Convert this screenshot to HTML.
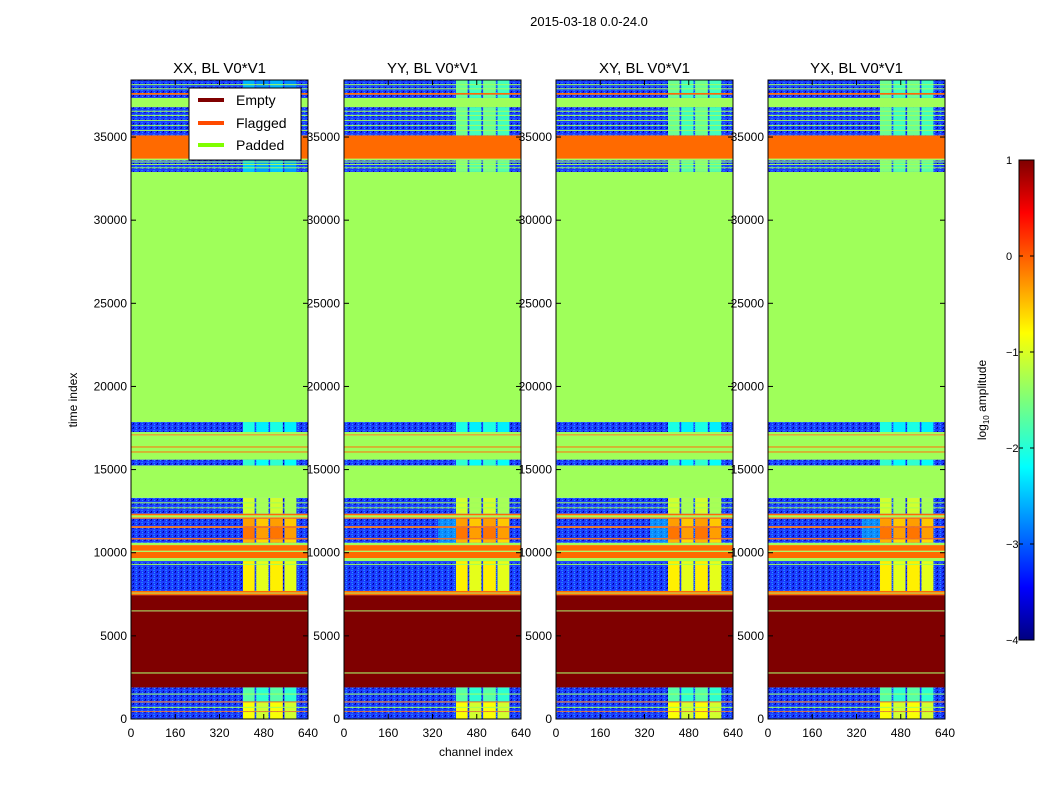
<!DOCTYPE html>
<html><head><meta charset="utf-8"><style>
body{margin:0;background:#fff;}
svg text{font-family:"Liberation Sans",sans-serif;fill:#000;}
</style></head><body>
<svg id="fig" width="1050" height="800" viewBox="0 0 1050 800" xmlns="http://www.w3.org/2000/svg">
<defs>
<pattern id="noise" width="6" height="4" patternUnits="userSpaceOnUse">
<rect width="6" height="4" fill="#1a3cff"/>
<rect x="0" y="0" width="2" height="1" fill="#0a14c8"/>
<rect x="3" y="2" width="2" height="1" fill="#1e78ff"/>
<rect x="1" y="3" width="1" height="1" fill="#00008c"/>
<rect x="4" y="0" width="1" height="1" fill="#2a9cff"/>
</pattern>
<linearGradient id="jet" x1="0" y1="1" x2="0" y2="0">
<stop offset="0" stop-color="#00007f"/><stop offset="0.11" stop-color="#0000ff"/>
<stop offset="0.36" stop-color="#00ffff"/><stop offset="0.5" stop-color="#7dff7a"/>
<stop offset="0.64" stop-color="#ffff00"/><stop offset="0.89" stop-color="#ff0000"/>
<stop offset="1" stop-color="#7f0000"/>
</linearGradient>
</defs>
<text x="589" y="26" font-size="13" text-anchor="middle">2015-03-18 0.0-24.0</text>
<g id="panels"></g>
<text x="476" y="756" font-size="12" text-anchor="middle">channel index</text>
<text x="77" y="400" font-size="12" text-anchor="middle" transform="rotate(-90 77 400)">time index</text>
<g>
<rect x="189" y="88" width="112" height="72" fill="#fff" stroke="#000" stroke-width="1"/>
<line x1="198" y1="100" x2="224" y2="100" stroke="#800000" stroke-width="4"/>
<text x="236" y="105" font-size="14">Empty</text>
<line x1="198" y1="123" x2="224" y2="123" stroke="#ff4a00" stroke-width="4"/>
<text x="236" y="128" font-size="14">Flagged</text>
<line x1="198" y1="145" x2="224" y2="145" stroke="#80ff00" stroke-width="4"/>
<text x="236" y="150" font-size="14">Padded</text>
</g>
<g>
<rect x="1019" y="160" width="15" height="480" fill="url(#jet)" stroke="#000"/>
<g id="cbticks"></g>
<text x="986" y="400" font-size="12" text-anchor="middle" transform="rotate(-90 986 400)">log<tspan font-size="8" dy="3">10</tspan><tspan dy="-3"> amplitude</tspan></text>
</g>
</svg>
<script>
const panelTitles=["XX, BL V0*V1","YY, BL V0*V1","XY, BL V0*V1","YX, BL V0*V1"];
const yTicks=[0,5000,10000,15000,20000,25000,30000,35000];
const xTicks=[0,160,320,480,640];
const cbTicks=[1,0,-1,-2,-3,-4];
// bands: start, end, type (D=data, E=empty, F=flagged, P=padded)
const bandStart=[0,420,470,1000,1060,1900,2740,2800,6480,6530,7450,7550,7600,7700,9500,9680,10050,10120,10460,10600,10800,10880,11500,11600,12050,12130,12250,12350,13300,15250,15600,16030,16090,16330,16390,17060,17120,17260,17860,32900,33600,33700,34100,35100,36800,37350,37550,37650];
const bandEnd=  [420,470,1000,1060,1900,2740,2800,6480,6530,7450,7550,7600,7700,9500,9680,10050,10120,10460,10600,10800,10880,11500,11600,12050,12130,12250,12350,13300,15250,15600,16030,16090,16330,16390,17060,17120,17260,17860,32900,33600,33700,34100,35100,36800,37350,37550,37650,38400];
const bandType=["D","F","D","F","D","E","P","E","P","E","F","P","F","D","P","F","P","F","P","D","F","D","F","D","F","P","F","D","P","D","P","F","P","F","P","F","P","D","P","D","P","F","F","D","P","D","F","D"];
// log amplitude of hot channel columns in data bands
const colLevel=[-0.9,0,-0.9,0,-1.7,0,0,0,0,0,0,0,0,-0.8,0,0,0,0,0,-0.5,0,-0.2,0,-0.4,0,0,0,-1.1,0,-1.9,0,0,0,0,0,0,0,-2.0,0,-2.4,0,0,0,-2.5,0,-2.5,0,-2.5];
const topBoost=[0,0.9,0.9,0.9];
const thinLines=[700,1500,9300,12700,13000,13700,14200,14700,33150,33350,33500,35400,35700,36000,36300,36550,37900,38150];
const hotColStart=[405,453,503,555];
const hotColEnd=[447,497,549,598];
function jet(v){const t=Math.max(0,Math.min(1,(v+4)/5));
 const r=Math.max(0,Math.min(1,1.5-Math.abs(4*t-3))),g=Math.max(0,Math.min(1,1.5-Math.abs(4*t-2))),b=Math.max(0,Math.min(1,1.5-Math.abs(4*t-1)));
 return `rgb(${Math.round(r*255)},${Math.round(g*255)},${Math.round(b*255)})`;}
const NS="http://www.w3.org/2000/svg";
function mk(tag,attrs,parent){const e=document.createElementNS(NS,tag);for(const k in attrs)e.setAttribute(k,attrs[k]);parent.appendChild(e);return e;}
const px=[131,344,556,768],pw=177,yTop=80,yBot=719,tMax=38430,cMax=640;
const ys=v=>yBot-(v/tMax)*(yBot-yTop);
const pGroup=document.getElementById('panels');
px.forEach((x0,p)=>{
 const xs=c=>x0+c/cMax*pw;
 const pg=mk('g',{},pGroup);
 
 
 for(let i=0;i<bandStart.length;i++){
  const y1=ys(bandEnd[i]),y0=ys(bandStart[i]);const t=bandType[i];
  const fill=t==="E"?"#7f0000":t==="F"?"#ff6a00":t==="P"?"#9fff5a":"url(#noise)";
  const r=mk('rect',{x:x0,y:y1,width:pw,height:Math.max(0.6,y0-y1),fill:fill},pg);
  
  
  if(t==="D"){
   let amp=colLevel[i];
   if(bandStart[i]>=32900) amp+=topBoost[p];
   if(p>0&&colLevel[i]>-0.7){const c=mk('rect',{x:xs(340),y:y1,width:xs(405)-xs(340),height:y0-y1,fill:jet(-2.3),opacity:0.5},pg);
    
    }
   for(let k=0;k<hotColStart.length;k++){
    const c=mk('rect',{x:xs(hotColStart[k]),y:y1,width:xs(hotColEnd[k])-xs(hotColStart[k]),height:Math.max(0.6,y0-y1),fill:jet(amp-(k%2)*0.2)},pg);
    
    
   }
  }
 }
 thinLines.forEach(v=>{
  const l=mk('rect',{x:x0,y:ys(v)-0.5,width:pw,height:1,fill:"#9fff5a"},pg);
  
  
 });
 mk('rect',{x:x0,y:yTop,width:pw,height:yBot-yTop,fill:"none",stroke:"#000","stroke-width":1},pg);
 const tt=mk('text',{x:x0+pw/2,y:73,"font-size":15,"text-anchor":"middle"},pg);tt.textContent=panelTitles[p];
 
 
 yTicks.forEach(v=>{const y=ys(v);
  mk('line',{x1:x0,y1:y,x2:x0+5,y2:y,stroke:"#000"},pg);mk('line',{x1:x0+pw,y1:y,x2:x0+pw-5,y2:y,stroke:"#000"},pg);
  const l=mk('text',{x:x0-4,y:y+4,"font-size":12,"text-anchor":"end"},pg);l.textContent=v;
  
  });
 xTicks.forEach(v=>{const x=xs(v);
  mk('line',{x1:x,y1:yBot,x2:x,y2:yBot-5,stroke:"#000"},pg);mk('line',{x1:x,y1:yTop,x2:x,y2:yTop+5,stroke:"#000"},pg);
  const l=mk('text',{x:x,y:yBot+18,"font-size":12,"text-anchor":"middle"},pg);l.textContent=v;
  
  });
});
const cb=document.getElementById('cbticks');
cbTicks.forEach(v=>{const y=160+(1-v)/5*480;
 mk('line',{x1:1019,y1:y,x2:1023,y2:y,stroke:"#000"},cb);mk('line',{x1:1034,y1:y,x2:1030,y2:y,stroke:"#000"},cb);
 const l=mk('text',{x:1006,y:y+4,"font-size":11},cb);l.textContent=v<0?"\u2212"+(-v):v;
 
 });
</script>
</body></html>
